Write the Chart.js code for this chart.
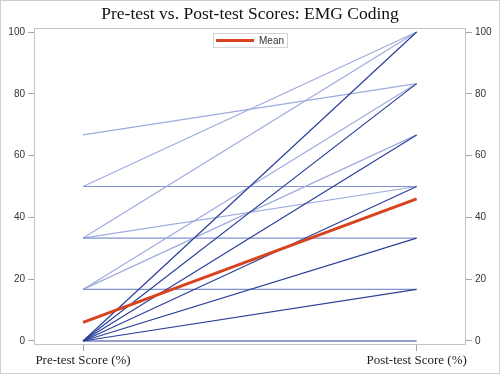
<!DOCTYPE html>
<html>
<head>
<meta charset="utf-8">
<script src="https://cdn.jsdelivr.net/npm/chart.js@4"></script>
<style>
  body { margin: 0; background: #fff; }
  #wrap { width: 500px; height: 374px; box-sizing: border-box; border: 1px solid #cfcfcf; }
</style>
</head>
<body>
<div id="wrap"><canvas id="chart"></canvas></div>
<script>
// one entry per subject line, pre-test -> post-test (%)
const preScores  = [0, 0, 0, 0, 0, 0, 0, 16.7, 16.7, 16.7, 33.3, 33.3, 33.3, 50, 50, 66.7];
const postScores = [0, 16.7, 33.3, 50, 66.7, 83.3, 100, 16.7, 66.7, 83.3, 33.3, 50, 100, 50, 100, 83.3];

const meanLabel = "Mean";
const meanScores = [6, 46];

const xLabels = ["Pre-test Score (%)", "Post-test Score (%)"];
const yTicks = [0, 20, 40, 60, 80, 100];

const meanColor = "#d8431d";

function lineColor(pre, post) {
  if (pre === 0) return "#2b3f99";
  if (pre === post) return "#7f91d0";
  return "#9eabdc";
}

const datasets = [
  {
    label: meanLabel,
    data: meanScores.map((v, i) => ({ x: i, y: v })),
    borderColor: meanColor,
    borderWidth: 3,
    pointRadius: 0,
  },
];
preScores.forEach((pre, i) => {
  const post = postScores[i];
  datasets.push({
    label: "s" + i,
    data: [{ x: 0, y: pre }, { x: 1, y: post }],
    borderColor: lineColor(pre, post),
    borderWidth: 1.2,
    pointRadius: 0,
  });
});

const tickFont = { family: "'Liberation Sans', Arial, sans-serif", size: 10 };

// plot frame + the small "Mean" legend box inside the top of the plot
const frame = {
  id: "frame",
  afterDraw(chart) {
    const { ctx, chartArea: a } = chart;
    ctx.save();
    ctx.strokeStyle = "#c4c4c4";
    ctx.lineWidth = 1;
    ctx.strokeRect(a.left + 0.5, a.top + 0.5, a.right - a.left - 1, a.bottom - a.top - 1);

    ctx.font = `${tickFont.size}px ${tickFont.family}`;
    const sample = 38, gap = 5, pad = 3;
    const tw = ctx.measureText(meanLabel).width;
    const w = Math.round(sample + gap + tw + pad * 2);
    const x0 = Math.round((a.left + a.right) / 2 - w / 2);
    const y0 = a.top + 5, h = 14;
    ctx.strokeStyle = "#d4d4d4";
    ctx.strokeRect(x0 + 0.5, y0 + 0.5, w, h);
    ctx.fillStyle = meanColor;
    ctx.fillRect(x0 + pad, y0 + h / 2 - 1, sample, 3);
    ctx.fillStyle = "#333";
    ctx.textBaseline = "middle";
    ctx.fillText(meanLabel, x0 + pad + sample + gap, y0 + h / 2 + 1);
    ctx.restore();
  },
};

const setYTicks = (s) => { s.ticks = yTicks.map((v) => ({ value: v })); };

const yAxis = (pos) => ({
  type: "linear",
  position: pos,
  min: -1.3,
  max: 101.3,
  afterBuildTicks: setYTicks,
  afterFit: (s) => { s.width = 33; },
  border: { display: false },
  grid: { drawOnChartArea: false, tickLength: 6, color: "#a8a8a8" },
  ticks: { font: tickFont, color: "#333", padding: 3 },
});

new Chart(document.getElementById("chart"), {
  type: "line",
  data: { datasets },
  plugins: [frame],
  options: {
    responsive: true,
    maintainAspectRatio: false,
    animation: false,
    layout: { padding: 0 },
    plugins: {
      title: {
        display: true,
        text: "Pre-test vs. Post-test Scores: EMG Coding",
        font: { family: "'Liberation Serif', 'Times New Roman', serif", size: 17.5, weight: "normal" },
        color: "#111",
        padding: { top: 3, bottom: 3 },
      },
      legend: { display: false },
      tooltip: { enabled: false },
    },
    scales: {
      x: {
        type: "linear",
        min: -0.147,
        max: 1.148,
        afterBuildTicks: (s) => { s.ticks = xLabels.map((_, i) => ({ value: i })); },
        afterFit: (s) => { s.height = 28; },
        border: { display: false },
        grid: { drawOnChartArea: false, tickLength: 6, color: "#a8a8a8" },
        ticks: {
          callback: (v) => xLabels[v],
          font: { family: "'Liberation Serif', 'Times New Roman', serif", size: 13 },
          color: "#222",
          maxRotation: 0,
          padding: 2,
        },
      },
      y: yAxis("left"),
      y2: yAxis("right"),
    },
  },
});
</script>
</body>
</html>
